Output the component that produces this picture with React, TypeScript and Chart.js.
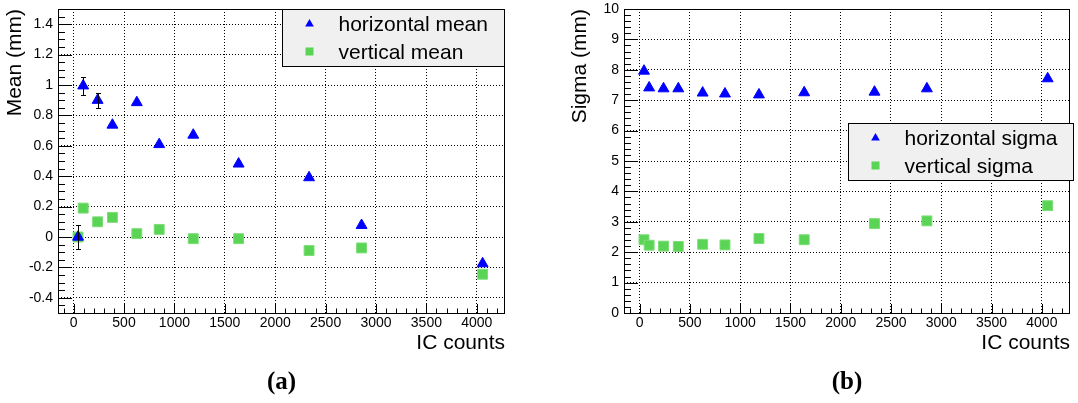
import React, { useEffect, useRef } from 'react';
import { Chart, registerables } from 'chart.js';

Chart.register(...registerables);

// ---------------- data ----------------
const icCounts = [44, 95, 238, 385, 627, 849, 1187, 1637, 2336, 2857, 4058];

const horizontalMean = [0.0, 0.995, 0.9, 0.737, 0.885, 0.609, 0.671, 0.481, 0.391, 0.077, -0.175];
const horizontalMeanErr = [0.082, 0.06, 0.05, 0, 0, 0, 0, 0, 0, 0, 0];
const verticalMean = [0.0, 0.19, 0.1, 0.129, 0.022, 0.05, -0.011, -0.011, -0.089, -0.072, -0.245];

const horizontalSigma = [7.96, 7.41, 7.38, 7.38, 7.24, 7.21, 7.18, 7.25, 7.27, 7.38, 7.71];
const verticalSigma = [2.41, 2.23, 2.2, 2.19, 2.26, 2.24, 2.45, 2.41, 2.94, 3.03, 3.53];
const noErr = [0, 0, 0, 0, 0, 0, 0, 0, 0, 0, 0];

const xTicks = [0, 500, 1000, 1500, 2000, 2500, 3000, 3500, 4000];
const meanTicks = [-0.4, -0.2, 0, 0.2, 0.4, 0.6, 0.8, 1, 1.2, 1.4];
const sigmaTicks = [0, 1, 2, 3, 4, 5, 6, 7, 8, 9, 10];

const meanNames = ['horizontal mean', 'vertical mean'];
const sigmaNames = ['horizontal sigma', 'vertical sigma'];
const xTitle = 'IC counts';
const meanTitle = 'Mean (mm)';
const sigmaTitle = 'Sigma (mm)';
const panelLabels = ['(a)', '(b)'];

// ---------------- styling / layout ----------------
const FONT = "'Liberation Sans', Arial, Helvetica, sans-serif";
const SERIF = "'Liberation Serif', 'Times New Roman', serif";
const H = 403;
const X_MIN = -155;
const X_MAX = 4280;
const BLUE = '#0000ff';
const GREEN = '#59d454';

type Panel = {
  canvasLeft: number;
  width: number;
  area: { left: number; right: number; top: number; bottom: number };
  yMin: number;
  yMax: number;
  yTicks: number[];
  yMajor: number;
  yMinor: number;
  yTitle: string;
  yTitlePad: number;
  s1: number[];
  s2: number[];
  err: number[];
  names: string[];
  legend: { left: number; top: number; right: number };
  label: string;
};

const panels: Panel[] = [
  {
    canvasLeft: 0,
    width: 539,
    area: { left: 58, right: 505, top: 9, bottom: 313 },
    yMin: -0.5,
    yMax: 1.5,
    yTicks: meanTicks,
    yMajor: 0.2,
    yMinor: 0.05,
    yTitle: meanTitle,
    yTitlePad: 3,
    s1: horizontalMean,
    s2: verticalMean,
    err: horizontalMeanErr,
    names: meanNames,
    legend: { left: 282, top: 9, right: 505 },
    label: panelLabels[0],
  },
  {
    canvasLeft: 539,
    width: 539,
    area: { left: 85, right: 535, top: 9, bottom: 313 },
    yMin: 0,
    yMax: 10,
    yTicks: sigmaTicks,
    yMajor: 1,
    yMinor: 0.2,
    yTitle: sigmaTitle,
    yTitlePad: 29,
    s1: horizontalSigma,
    s2: verticalSigma,
    err: noErr,
    names: sigmaNames,
    legend: { left: 309, top: 123, right: 535 },
    label: panelLabels[1],
  },
];

function decoPlugin(p: Panel) {
  return {
    id: 'deco',
    afterDatasetsDraw(chart: any) {
      const ctx = chart.ctx;
      const xs = chart.scales.x;
      const ys = chart.scales.y;
      ctx.save();
      ctx.strokeStyle = '#000';
      ctx.lineWidth = 1;
      ctx.beginPath();
      icCounts.forEach((xv, i) => {
        const e = p.err[i];
        if (!e) return;
        const px = Math.round(xs.getPixelForValue(xv)) + 0.5;
        const y1 = Math.round(ys.getPixelForValue(p.s1[i] + e)) + 0.5;
        const y2 = Math.round(ys.getPixelForValue(p.s1[i] - e)) + 0.5;
        ctx.moveTo(px, y1);
        ctx.lineTo(px, y2);
        ctx.moveTo(px - 2.5, y1);
        ctx.lineTo(px + 2.5, y1);
        ctx.moveTo(px - 2.5, y2);
        ctx.lineTo(px + 2.5, y2);
      });
      ctx.stroke();
      ctx.restore();
    },
    afterDraw(chart: any) {
      const ctx = chart.ctx;
      const xs = chart.scales.x;
      const ys = chart.scales.y;
      const { left, right, top, bottom } = chart.chartArea;
      ctx.save();
      ctx.strokeStyle = '#000';
      ctx.lineWidth = 1;
      ctx.setLineDash([]);
      ctx.beginPath();
      // x ticks (inward)
      for (let k = Math.ceil(X_MIN / 100); k * 100 <= X_MAX; k++) {
        const v = k * 100;
        const px = Math.round(xs.getPixelForValue(v)) + 0.5;
        const major = v % 500 === 0;
        ctx.moveTo(px, bottom);
        ctx.lineTo(px, bottom - (major ? 9 : 4.5));
      }
      // y ticks (inward)
      const n0 = Math.ceil(p.yMin / p.yMinor - 1e-9);
      const n1 = Math.floor(p.yMax / p.yMinor + 1e-9);
      for (let k = n0; k <= n1; k++) {
        const v = k * p.yMinor;
        const r = v / p.yMajor;
        const major = Math.abs(r - Math.round(r)) < 1e-6;
        const py = Math.round(ys.getPixelForValue(v)) + 0.5;
        ctx.moveTo(left, py);
        ctx.lineTo(left + (major ? 14 : 7), py);
      }
      ctx.stroke();
      // frame
      ctx.strokeRect(Math.round(left) + 0.5, Math.round(top) + 0.5, Math.round(right - left) - 1, Math.round(bottom - top));

      // legend
      const lb = p.legend;
      const lh = 57;
      ctx.fillStyle = '#f0f0f0';
      ctx.fillRect(lb.left, lb.top, lb.right - lb.left, lh);
      ctx.strokeRect(lb.left + 0.5, lb.top + 0.5, lb.right - lb.left - 1, lh);
      const mx = lb.left + 27.5;
      const tx = lb.left + 56.5;
      const r1 = lb.top + 15;
      const r2 = lb.top + 42.5;
      // triangle swatch
      ctx.fillStyle = BLUE;
      ctx.beginPath();
      const tr = 5;
      ctx.moveTo(mx, r1 - tr);
      ctx.lineTo(mx + tr * 0.866, r1 + tr / 2);
      ctx.lineTo(mx - tr * 0.866, r1 + tr / 2);
      ctx.closePath();
      ctx.fill();
      // square swatch
      ctx.fillStyle = GREEN;
      ctx.fillRect(mx - 4, r2 - 4, 8, 8);
      ctx.fillStyle = '#000';
      ctx.font = `21px ${FONT}`;
      ctx.textAlign = 'left';
      ctx.textBaseline = 'alphabetic';
      ctx.fillText(p.names[0], tx, lb.top + 22);
      ctx.fillText(p.names[1], tx, lb.top + 49.5);

      // panel label
      ctx.font = `bold 25px ${SERIF}`;
      ctx.textAlign = 'center';
      ctx.fillText(p.label, (left + right) / 2, 388.5);
      ctx.restore();
    },
  };
}

function zeroPad(s: any) {
  s.paddingLeft = 0;
  s.paddingRight = 0;
  s.paddingTop = 0;
  s.paddingBottom = 0;
}

function makeConfig(p: Panel): any {
  return {
    type: 'scatter',
    data: {
      datasets: [
        {
          label: p.names[0],
          data: icCounts.map((x, i) => ({ x, y: p.s1[i] })),
          pointStyle: 'triangle',
          pointRadius: 6.3,
          backgroundColor: BLUE,
          borderColor: BLUE,
          borderWidth: 1,
        },
        {
          label: p.names[1],
          data: icCounts.map((x, i) => ({ x, y: p.s2[i] })),
          pointStyle: 'rect',
          pointRadius: 7,
          backgroundColor: GREEN,
          borderColor: '#7cdd77',
          borderWidth: 1,
        },
      ],
    },
    options: {
      animation: false,
      responsive: false,
      events: [],
      layout: {
        padding: { left: 0, top: p.area.top, right: p.width - p.area.right, bottom: 0 },
      },
      plugins: {
        legend: { display: false },
        tooltip: { enabled: false },
      },
      scales: {
        x: {
          type: 'linear',
          position: 'bottom',
          min: X_MIN,
          max: X_MAX,
          afterBuildTicks: (s: any) => {
            s.ticks = xTicks.map((v) => ({ value: v }));
          },
          afterFit: (s: any) => {
            s.height = H - p.area.bottom;
            zeroPad(s);
          },
          ticks: {
            callback: (v: any) => String(v),
            font: { family: FONT, size: 14 },
            color: '#000',
            padding: 2,
            maxRotation: 0,
            autoSkip: false,
          },
          grid: { color: '#000', lineWidth: 1, drawTicks: false },
          border: { display: false, dash: [1, 2] },
          title: {
            display: true,
            text: xTitle,
            align: 'end',
            color: '#000',
            font: { family: FONT, size: 21 },
            padding: { top: 0, bottom: 47 },
          },
        },
        y: {
          type: 'linear',
          position: 'left',
          min: p.yMin,
          max: p.yMax,
          afterBuildTicks: (s: any) => {
            s.ticks = p.yTicks.map((v) => ({ value: v }));
          },
          afterFit: (s: any) => {
            s.width = p.area.left;
            zeroPad(s);
          },
          ticks: {
            callback: (v: any) => String(v),
            font: { family: FONT, size: 14 },
            color: '#000',
            padding: 5,
            autoSkip: false,
          },
          grid: { color: '#000', lineWidth: 1, drawTicks: false },
          border: { display: false, dash: [1, 2] },
          title: {
            display: true,
            text: p.yTitle,
            align: 'end',
            color: '#000',
            font: { family: FONT, size: 21 },
            padding: { top: p.yTitlePad, bottom: 0 },
          },
        },
      },
    },
    plugins: [decoPlugin(p)],
  };
}

function PanelChart({ p }: { p: Panel }) {
  const ref = useRef<HTMLCanvasElement | null>(null);
  useEffect(() => {
    if (!ref.current) return;
    const chart = new Chart(ref.current, makeConfig(p));
    return () => chart.destroy();
  }, [p]);
  return (
    <canvas
      ref={ref}
      width={p.width}
      height={H}
      style={{ position: 'absolute', left: p.canvasLeft, top: 0, width: p.width, height: H }}
    />
  );
}

export default function App() {
  return (
    <div style={{ position: 'absolute', left: 0, top: 0, width: 1078, height: H, background: '#fff', overflow: 'hidden' }}>
      {panels.map((p) => (
        <PanelChart key={p.label} p={p} />
      ))}
    </div>
  );
}
